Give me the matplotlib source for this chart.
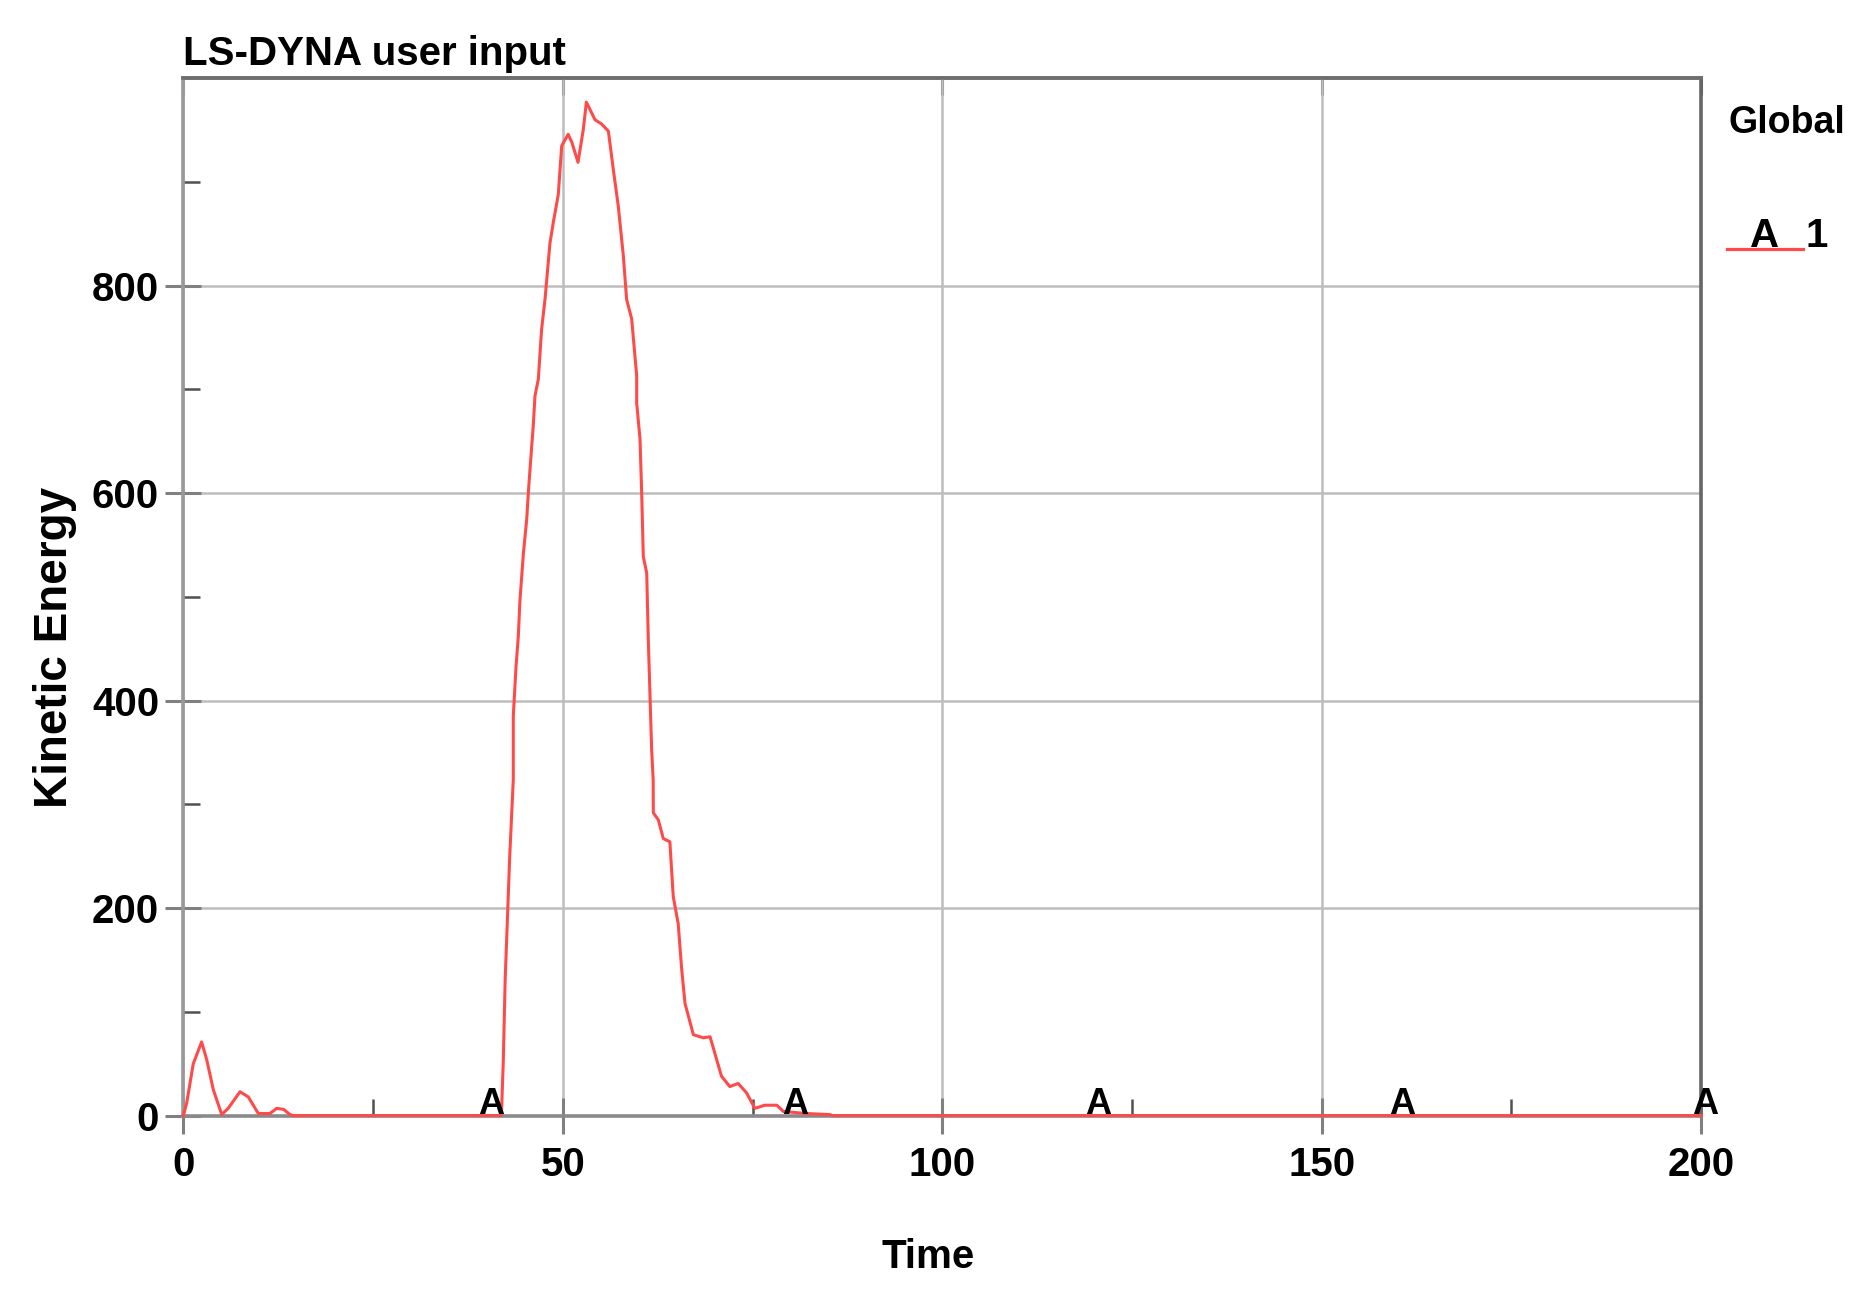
import matplotlib
matplotlib.use('Agg')
import matplotlib.pyplot as plt
from matplotlib.lines import Line2D

# ---- data ----
time = [0, 0.43, 1.3, 2.4, 3.07, 3.94, 5.05, 5.9, 7.46, 8.55, 9.87, 11.4, 12.3,
        13.2, 14.05, 14.5, 20, 41.9, 42.15, 42.4, 43.0, 43.47, 43.47, 43.83,
        44.13, 44.35, 44.8, 45.24, 45.45, 45.67, 46.1, 46.33, 46.77, 47.2,
        47.65, 48.3, 48.74, 49.4, 49.85, 50.7, 51.2, 52.0, 52.7, 53.1, 54.24,
        55.1, 56.0, 56.65, 57.3, 57.97, 58.4, 59.07, 59.73, 59.73, 60.17, 60.4,
        60.6, 61.05, 61.26, 61.7, 61.9, 61.92, 62.58, 63.24, 64.1, 64.55, 65.2,
        65.66, 66.1, 67.2, 68.5, 69.4, 70.9, 72.0, 73.1, 74.2, 75.3, 76.6, 78.2,
        79.05, 82.1, 85.2, 85.5, 200]
kinetic_energy = [0, 12, 50, 71, 54, 25, 1, 7, 23, 18, 2, 2, 7,
                  6, 1, 0, 0, 0, 52, 131, 250, 324, 385, 433,
                  462, 497, 542, 575, 600, 623, 665, 694, 710, 758,
                  787, 841, 861, 888, 935, 946, 938, 919, 951, 977, 960,
                  956, 949, 912, 877, 829, 787, 768, 713, 687, 652, 597,
                  539, 523, 459, 353, 324, 292, 285, 267, 264, 211, 185,
                  141, 108, 78, 75, 76, 38, 28, 31, 22, 7, 10, 10,
                  4, 2, 1, 0, 0]
marker_times = [40, 80, 120, 160, 200]
marker_label = "A"
x_ticks = [0, 50, 100, 150, 200]
x_minor = [25, 75, 125, 175]
y_ticks = [0, 200, 400, 600, 800]
y_minor = [100, 300, 500, 700, 900]
title = "LS-DYNA user input"
x_label = "Time"
y_label = "Kinetic Energy"
legend_title = "Global"
series_name = "1"

# ---- style ----
plt.rcParams['font.family'] = ['Liberation Sans', 'DejaVu Sans']
plt.rcParams['font.weight'] = 'bold'
RED = '#ff4a4a'
W, H = 1855, 1301

fig = plt.figure(figsize=(W / 100, H / 100), dpi=100)
fig.patch.set_facecolor('white')
ax = fig.add_axes([183.4 / W, 1 - 1115.6 / H, (1701.2 - 183.4) / W, (1115.6 - 78.3) / H])

ax.plot(time, kinetic_energy, color=RED, lw=2.2, zorder=4, clip_on=False,
        solid_joinstyle='round')

ax.set_xlim(0, 200)
ax.set_ylim(0, 1000)
ax.set_xticks(x_ticks)
ax.set_yticks(y_ticks)
ax.set_xticks(x_minor, minor=True)
ax.set_yticks(y_minor, minor=True)
ax.set_axisbelow(True)
ax.grid(True, which='major', color='#bdbdbd', lw=1.8)

ax.tick_params(which='major', direction='inout', length=26, width=2.2,
               color='#808080', labelsize=29)
ax.tick_params(axis='x', which='major', pad=9)
ax.tick_params(axis='y', which='major', pad=4.5)
ax.tick_params(which='minor', direction='in', length=12, width=1.8, color='#505050')

for side, col in [('left', '#999999'), ('bottom', '#8a8a8a'),
                  ('top', '#6e6e6e'), ('right', '#666666')]:
    ax.spines[side].set_color(col)
    ax.spines[side].set_linewidth(2.6)

secx = ax.secondary_xaxis('top')
secx.set_xticks(x_ticks)
secx.tick_params(direction='in', length=12, width=2.2, color='#606060',
                 labeltop=False)
secx.spines['top'].set_color('#6e6e6e')
secx.spines['top'].set_linewidth(2.6)

for t in marker_times:
    ax.annotate(marker_label, xy=(t, 0), xytext=(3, 1), textcoords='offset points',
                ha='center', va='baseline', fontsize=26, zorder=5,
                annotation_clip=False)

fig.text(183 / W, 1 - 65 / H, title, ha='left', va='baseline', fontsize=29)
fig.text(928 / W, 1 - 1268 / H, x_label, ha='center', va='baseline', fontsize=29)
fig.text(55 / W, 1 - 647 / H, y_label, rotation=90, ha='center', va='center',
         fontsize=33)

fig.text(1728 / W, 1 - 133 / H, legend_title, ha='left', va='baseline', fontsize=27)
fig.add_artist(Line2D([1727 / W, 1803 / W], [1 - 249 / H] * 2, color=RED, lw=2.3,
                      transform=fig.transFigure))
fig.text(1765 / W, 1 - 247 / H, marker_label, ha='center', va='baseline', fontsize=29)
fig.text(1805 / W, 1 - 247 / H, series_name, ha='left', va='baseline', fontsize=29)

fig.savefig('out.png', dpi=100)
